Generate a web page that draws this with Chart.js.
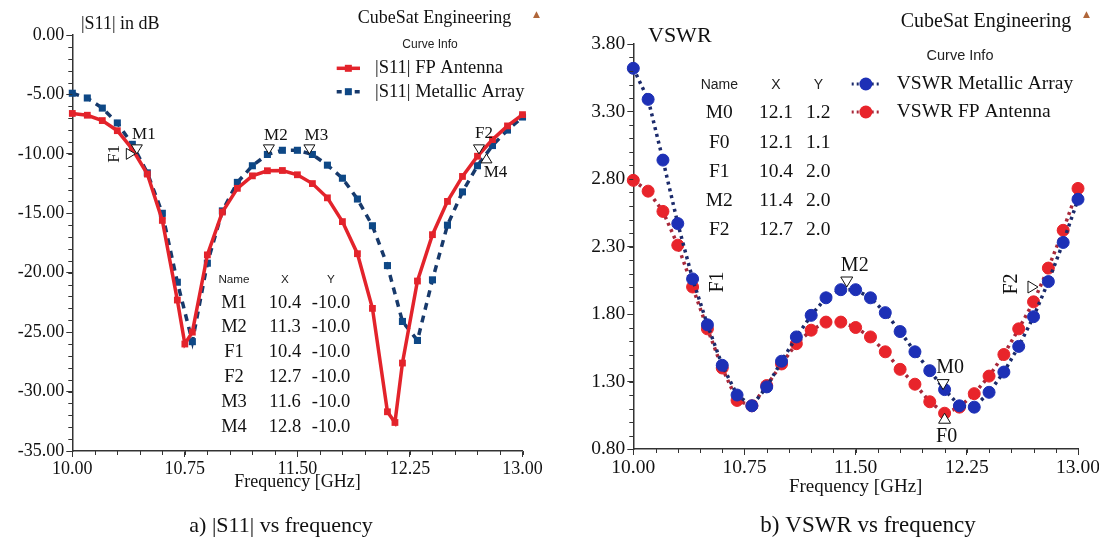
<!DOCTYPE html>
<html><head><meta charset="utf-8">
<script src="https://cdn.jsdelivr.net/npm/chart.js@4.4.1/dist/chart.umd.min.js"></script>
<style>
html,body{margin:0;padding:0;background:#fff;width:1099px;height:541px;overflow:hidden}
#l{position:absolute;left:0;top:0;width:550px;height:541px}
#r{position:absolute;left:550px;top:0;width:549px;height:541px}
</style></head><body>
<canvas id="l" width="550" height="541"></canvas>
<canvas id="r" width="549" height="541"></canvas>
<script>
// ---------------- DATA ----------------
const freqS11FP = [10.0,10.1,10.2,10.3,10.4,10.5,10.6,10.7,10.75,10.8,10.9,11.0,11.1,11.2,11.3,11.4,11.5,11.6,11.7,11.8,11.9,12.0,12.1,12.15,12.2,12.3,12.4,12.5,12.6,12.7,12.8,12.9,13.0];
const s11FP = [-6.6,-6.75,-7.2,-8.05,-9.6,-11.7,-15.6,-22.3,-26.0,-25.0,-18.5,-14.9,-12.9,-11.85,-11.42,-11.4,-11.76,-12.5,-13.7,-15.7,-18.4,-23.0,-31.7,-32.6,-27.6,-20.7,-16.8,-14.0,-11.9,-10.2,-8.8,-7.65,-6.7];
const freqS11MA = [10.0,10.1,10.2,10.3,10.4,10.5,10.6,10.7,10.8,10.9,11.0,11.1,11.2,11.3,11.4,11.5,11.6,11.7,11.8,11.9,12.0,12.1,12.2,12.3,12.4,12.5,12.6,12.7,12.8,12.9,13.0];
const s11MA = [-4.9,-5.3,-6.15,-7.4,-9.2,-11.6,-15.0,-20.8,-25.8,-19.2,-14.8,-12.4,-11.0,-10.05,-9.7,-9.7,-10.05,-10.95,-12.05,-13.8,-16.05,-19.4,-24.1,-25.7,-20.6,-16.0,-13.2,-11.0,-9.3,-8.0,-6.9];

const freqVSWR = [10.0,10.1,10.2,10.3,10.4,10.5,10.6,10.7,10.8,10.9,11.0,11.1,11.2,11.3,11.4,11.5,11.6,11.7,11.8,11.9,12.0,12.1,12.2,12.3,12.4,12.5,12.6,12.7,12.8,12.9,13.0];
const vswrMA = [3.62,3.39,2.94,2.47,2.06,1.72,1.42,1.20,1.12,1.26,1.45,1.63,1.79,1.92,1.98,1.98,1.92,1.81,1.67,1.52,1.38,1.24,1.12,1.11,1.22,1.37,1.56,1.78,2.04,2.33,2.65];
const vswrFP = [2.79,2.71,2.56,2.31,2.00,1.69,1.40,1.16,1.12,1.27,1.43,1.58,1.68,1.74,1.74,1.70,1.63,1.52,1.39,1.28,1.15,1.065,1.11,1.21,1.34,1.50,1.69,1.89,2.14,2.42,2.73];

const s11MarkerNames = ['M1','M2','F1','F2','M3','M4'];
const s11MarkerX = [10.43,11.31,10.42,12.71,11.58,12.76];
const s11MarkerY = [-10,-10,-10,-10,-10,-10];
const vswrMarkerNames = ['M0','F0','F1','M2','F2'];
const vswrMarkerX = [12.09,12.1,10.4,11.44,12.73];
const vswrMarkerY = [1.24,1.065,2.0,2.0,2.0];

const s11Labels = ['|S11| FP Antenna','|S11| Metallic Array'];
const vswrLabels = ['VSWR Metallic Array','VSWR FP Antenna'];

// ---------------- STYLE ----------------
const SERIF = '"Liberation Serif","Times New Roman",serif';
const SANS = '"Liberation Sans",Arial,sans-serif';
const AXIS = '#333';
const RED = '#e3232b', NAVY = '#0e4886', NAVY_LINE = '#17396b';
const VBLUE = '#1d30b6', VRED = '#e8242b', VBLUE_LINE = '#1b2a6b', VRED_LINE = '#a8283a';

function pts(xs, ys){ return xs.map((x,i)=>({x:x, y:ys[i]})); }

function drawTri(ctx,x,y,dir,w,h){
  ctx.beginPath();
  if(dir==='down'){ctx.moveTo(x,y);ctx.lineTo(x-w/2,y-h);ctx.lineTo(x+w/2,y-h);}
  else if(dir==='up'){ctx.moveTo(x,y);ctx.lineTo(x-w/2,y+h);ctx.lineTo(x+w/2,y+h);}
  else {ctx.moveTo(x,y);ctx.lineTo(x-h,y-w/2);ctx.lineTo(x-h,y+w/2);}
  ctx.closePath(); ctx.fillStyle='#fff'; ctx.fill();
  ctx.strokeStyle='#111'; ctx.lineWidth=1; ctx.stroke();
}

const annotPlugin = {
  id:'annot',
  afterDraw(chart, args, o){
    const ctx=chart.ctx, xs=chart.scales.x, ys=chart.scales.y, ca=chart.chartArea;
    ctx.save();
    // minor ticks
    ctx.strokeStyle=AXIS; ctx.lineWidth=1; ctx.beginPath();
    const nx=Math.round((xs.max-xs.min)/o.minorX);
    for(let i=0;i<=nx;i++){const px=Math.round(xs.getPixelForValue(xs.min+i*o.minorX))+0.5; ctx.moveTo(px,ca.bottom); ctx.lineTo(px,ca.bottom+o.minorLen);}
    const ny=Math.round((ys.max-ys.min)/o.minorY);
    for(let i=0;i<=ny;i++){const py=Math.round(ys.getPixelForValue(ys.min+i*o.minorY))+0.5; ctx.moveTo(ca.left-o.minorLen,py); ctx.lineTo(ca.left,py);}
    ctx.stroke();
    // texts
    ctx.textBaseline='middle';
    o.texts.forEach(t=>{ctx.font=t.font; ctx.fillStyle=t.color||'#111'; ctx.textAlign=t.align||'left'; ctx.fillText(t.text,t.x,t.y);});
    // icon
    ctx.font='9px "DejaVu Sans",sans-serif'; ctx.fillStyle='#b0663a'; ctx.textAlign='center';
    ctx.fillText('\u25B2', o.icon.x, o.icon.y);
    // legend
    const L=o.legend;
    L.items.forEach((it,i)=>{
      const y=L.y0+i*L.dy;
      ctx.save();
      ctx.strokeStyle=it.line; ctx.lineWidth=it.lw; ctx.setLineDash(it.dash);
      ctx.beginPath(); ctx.moveTo(L.x0,y); ctx.lineTo(L.x1,y); ctx.stroke();
      ctx.setLineDash([]);
      ctx.fillStyle=it.fill;
      const cx=(L.x0+L.x1)/2;
      if(it.shape==='rect'){ctx.fillRect(cx-it.size/2,y-it.size/2,it.size,it.size);}
      else {ctx.beginPath(); ctx.arc(cx,y,it.size/2,0,Math.PI*2); ctx.fill();}
      ctx.restore();
      ctx.font=L.font; ctx.fillStyle='#111'; ctx.textAlign='left';
      ctx.fillText(it.text,L.tx,y);
    });
    // table
    const T=o.table;
    ctx.font=T.headFont; ctx.textAlign='center'; ctx.fillStyle='#222';
    ['Name','X','Y'].forEach((h,i)=>ctx.fillText(h,T.cols[i],T.headY));
    ctx.font=T.rowFont; ctx.fillStyle='#111';
    T.names.forEach((n,i)=>{
      const y=T.rowY0+i*T.rowDY;
      ctx.fillText(n,T.cols[0],y);
      ctx.fillText(T.xs[i].toFixed(1),T.cols[1],y);
      ctx.fillText(T.ys[i].toFixed(1),T.cols[2],y);
    });
    // markers
    const M=o.markers;
    M.names.forEach((n,i)=>{
      const st=M.styles[n];
      const px=xs.getPixelForValue(M.xs[i]), py=ys.getPixelForValue(M.ys[i]);
      if(st.t) drawTri(ctx,px,py,st.t,M.w,M.h);
      ctx.font=M.font; ctx.fillStyle='#111'; ctx.textAlign='center';
      if(st.rot){ctx.save(); ctx.translate(px+st.dx,py+st.dy); ctx.rotate(-Math.PI/2); ctx.fillText(n,0,0); ctx.restore();}
      else ctx.fillText(n,px+st.dx,py+st.dy);
    });
    ctx.restore();
  }
};

function makeChart(id, datasets, cfg){
  return new Chart(document.getElementById(id), {
    type:'line',
    data:{datasets:datasets},
    options:{
      responsive:false, animation:false, devicePixelRatio:1,
      layout:{padding:{left:0,right:cfg.padRight,top:cfg.top,bottom:0}},
      plugins:{legend:{display:false}, tooltip:{enabled:false}, annot:cfg.annot},
      elements:{line:{tension:0}},
      scales:{
        x:{type:'linear', min:10, max:13,
           ticks:{stepSize:0.75, autoSkip:false, maxRotation:0, padding:2, color:'#111',
                  font:{family:SERIF,size:cfg.tickSize,lineHeight:1.1}, callback:v=>v.toFixed(2)},
           grid:{display:true, drawOnChartArea:false, drawTicks:true, tickLength:6, tickColor:AXIS, tickWidth:1},
           border:{display:true,color:AXIS,width:1.5},
           title:{display:true, text:'Frequency [GHz]', color:'#111', font:{family:SERIF,size:cfg.titleSize,lineHeight:1.2}, padding:{top:0,bottom:cfg.titlePadBottom}},
           afterFit:s=>{s.height=cfg.xHeight; s.paddingLeft=0; s.paddingRight=0;}
        },
        y:{type:'linear', min:cfg.ymin, max:cfg.ymax,
           ticks:{stepSize:cfg.ystep, padding:2, color:'#111', font:{family:SERIF,size:cfg.tickSize}, callback:v=>v.toFixed(2)},
           grid:{display:true, drawOnChartArea:false, drawTicks:true, tickLength:6, tickColor:AXIS, tickWidth:1},
           border:{display:true,color:AXIS,width:1.5},
           afterFit:s=>{s.width=cfg.yWidth; s.paddingTop=0; s.paddingBottom=0;}
        }
      }
    },
    plugins:[annotPlugin]
  });
}

// ---------------- LEFT: |S11| ----------------
makeChart('l', [
  {label:s11Labels[0], data:pts(freqS11FP,s11FP), borderColor:RED, backgroundColor:RED, borderWidth:3.5,
   pointStyle:'rect', pointRadius:4.8, pointBorderWidth:0, clip:false},
  {label:s11Labels[1], data:pts(freqS11MA,s11MA), borderColor:NAVY_LINE, backgroundColor:NAVY, borderWidth:3.5, borderDash:[7,6],
   pointStyle:'rect', pointRadius:5, pointBorderWidth:0, clip:false}
], {
  padRight:550-522.5, top:35, xHeight:90, yWidth:72.3, ymin:-35, ymax:0, ystep:5,
  tickSize:18, titleSize:18, titlePadBottom:48,
  annot:{
    minorX:0.15, minorY:1, minorLen:4,
    texts:[
      {text:'CubeSat Engineering', x:357.7, y:18.3, font:'18px '+SERIF},
      {text:'|S11| in dB', x:81, y:24.5, font:'18px '+SERIF},
      {text:'Curve Info', x:430, y:45, font:'12px '+SANS, align:'center', color:'#222'},
      {text:'a) |S11| vs frequency', x:281, y:526, font:'22px '+SERIF, align:'center'}
    ],
    icon:{x:536.5,y:15},
    legend:{x0:336.7, x1:360, tx:375, y0:68.3, dy:23.4, font:'18.5px '+SERIF, items:[
      {text:s11Labels[0], line:RED, lw:3.5, dash:[], fill:RED, shape:'rect', size:7},
      {text:s11Labels[1], line:NAVY_LINE, lw:3.5, dash:[5,4], fill:NAVY, shape:'rect', size:7}
    ]},
    table:{names:s11MarkerNames, xs:s11MarkerX, ys:s11MarkerY, cols:[234,285,331], headY:279.3, rowY0:302.7, rowDY:24.9,
           headFont:'11.7px '+SANS, rowFont:'18.5px '+SERIF},
    markers:{names:s11MarkerNames, xs:s11MarkerX, ys:s11MarkerY, w:11, h:9, font:'17px '+SERIF, styles:{
      M1:{t:'down',dx:7,dy:-19}, F1:{t:'right',dx:-21,dy:0,rot:true}, M2:{t:'down',dx:7,dy:-18},
      M3:{t:'down',dx:7,dy:-18}, F2:{t:'down',dx:5,dy:-20}, M4:{t:'up',dx:9,dy:19}
    }}
  }
});

// ---------------- RIGHT: VSWR ----------------
const OX = 550;
makeChart('r', [
  {label:vswrLabels[0], data:pts(freqVSWR,vswrMA), borderColor:VBLUE_LINE, backgroundColor:VBLUE, pointBorderColor:VBLUE, borderWidth:3.5, borderDash:[3,4],
   pointStyle:'circle', pointRadius:6, pointBorderWidth:1, clip:false},
  {label:vswrLabels[1], data:pts(freqVSWR,vswrFP), borderColor:VRED_LINE, backgroundColor:VRED, pointBorderColor:VRED, borderWidth:3.5, borderDash:[3,4],
   pointStyle:'circle', pointRadius:6, pointBorderWidth:1, clip:false}
], {
  padRight:549-528, top:44, xHeight:92, yWidth:83.3, ymin:0.8, ymax:3.8, ystep:0.5,
  tickSize:19.5, titleSize:19, titlePadBottom:43,
  annot:{
    minorX:0.15, minorY:0.1, minorLen:4,
    texts:[
      {text:'CubeSat Engineering', x:900.7-OX, y:22, font:'20px '+SERIF},
      {text:'VSWR', x:648-OX, y:36, font:'22px '+SERIF},
      {text:'Curve Info', x:960-OX, y:56, font:'14.5px '+SANS, align:'center', color:'#222'},
      {text:'b) VSWR vs frequency', x:868-OX, y:526, font:'23px '+SERIF, align:'center'}
    ],
    icon:{x:1086.5-OX,y:15},
    legend:{x0:851.7-OX, x1:880-OX, tx:896.7-OX, y0:84, dy:28, font:'19.5px '+SERIF, items:[
      {text:vswrLabels[0], line:VBLUE_LINE, lw:3, dash:[2,3], fill:VBLUE, shape:'circle', size:13},
      {text:vswrLabels[1], line:VRED_LINE, lw:3, dash:[2,3], fill:VRED, shape:'circle', size:13}
    ]},
    table:{names:vswrMarkerNames, xs:vswrMarkerX, ys:vswrMarkerY, cols:[719.3-OX,776-OX,818.3-OX], headY:85, rowY0:113.3, rowDY:29.2,
           headFont:'14px '+SANS, rowFont:'19.5px '+SERIF},
    markers:{names:vswrMarkerNames, xs:vswrMarkerX, ys:vswrMarkerY, w:12, h:10, font:'20px '+SERIF, styles:{
      M0:{t:'down',dx:7,dy:-22}, F0:{t:'up',dx:2,dy:24}, F1:{t:null,dx:25,dy:-5,rot:true},
      M2:{t:'down',dx:8,dy:-21}, F2:{t:'right',dx:-26,dy:-3,rot:true}
    }}
  }
});
</script>
</body></html>
